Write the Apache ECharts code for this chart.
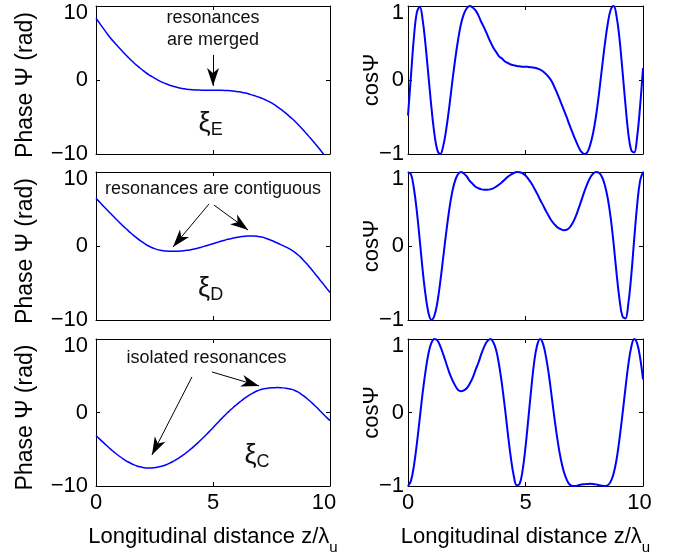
<!DOCTYPE html>
<html>
<head>
<meta charset="utf-8">
<script src="https://cdn.jsdelivr.net/npm/echarts@6/dist/echarts.min.js"></script>
<style>
  html, body { margin: 0; padding: 0; background: #fff; }
  #chart { width: 673px; height: 559px; }
</style>
</head>
<body>
<div id="chart"></div>
<script>
// Phase along the undulator (rad) and its cosine, for three detuning cases,
// sampled on a common longitudinal grid z/λu.
const zGrid = [0, 0.125, 0.25, 0.375, 0.5, 0.625, 0.75, 0.875,
  1, 1.125, 1.25, 1.375, 1.5, 1.625, 1.75, 1.875,
  2, 2.125, 2.25, 2.375, 2.5, 2.625, 2.75, 2.875,
  3, 3.125, 3.25, 3.375, 3.5, 3.625, 3.75, 3.875,
  4, 4.125, 4.25, 4.375, 4.5, 4.625, 4.75, 4.875,
  5, 5.125, 5.25, 5.375, 5.5, 5.625, 5.75, 5.875,
  6, 6.125, 6.25, 6.375, 6.5, 6.625, 6.75, 6.875,
  7, 7.125, 7.25, 7.375, 7.5, 7.625, 7.75, 7.875,
  8, 8.125, 8.25, 8.375, 8.5, 8.625, 8.75, 8.875,
  9, 9.125, 9.25, 9.375, 9.5, 9.625, 9.75, 9.875, 10];

// Case ξE: the two resonances are merged.
const psiE = [8.35, 7.80, 7.25, 6.70, 6.15, 5.66, 5.19, 4.75,
  4.32, 3.89, 3.47, 3.07, 2.68, 2.30, 1.96, 1.62,
  1.31, 1.01, 0.73, 0.48, 0.24, 0.02, -0.18, -0.36,
  -0.52, -0.67, -0.80, -0.92, -1.02, -1.11, -1.18, -1.24,
  -1.28, -1.315, -1.34, -1.36, -1.37, -1.38, -1.385, -1.39,
  -1.39, -1.393, -1.396, -1.40, -1.41, -1.43, -1.46, -1.50,
  -1.54, -1.60, -1.68, -1.77, -1.87, -1.98, -2.10, -2.23,
  -2.36, -2.52, -2.70, -2.89, -3.10, -3.34, -3.62, -3.91,
  -4.20, -4.52, -4.86, -5.21, -5.58, -5.97, -6.38, -6.82,
  -7.26, -7.72, -8.18, -8.65, -9.12, -9.62, -10.12, -10.63, -11.16];
const cosE = [-0.48, 0.05, 0.57, 0.91, 0.99, 0.81, 0.46, 0.04,
  -0.38, -0.73, -0.95, -1.00, -0.89, -0.67, -0.38, -0.05,
  0.26, 0.53, 0.75, 0.89, 0.97, 1.00, 0.98, 0.94,
  0.87, 0.78, 0.70, 0.61, 0.52, 0.44, 0.38, 0.32,
  0.29, 0.25, 0.23, 0.21, 0.20, 0.19, 0.185, 0.18,
  0.18, 0.177, 0.172, 0.165, 0.155, 0.14, 0.115, 0.08,
  0.035, -0.025, -0.11, -0.20, -0.30, -0.40, -0.50, -0.61,
  -0.71, -0.81, -0.90, -0.97, -1.00, -0.98, -0.88, -0.72,
  -0.49, -0.19, 0.15, 0.48, 0.76, 0.95, 1.00, 0.86,
  0.56, 0.13, -0.32, -0.72, -0.95, -0.98, -0.77, -0.36, 0.16];

// Case ξD: the resonances are contiguous.
const psiD = [6.45, 6.03, 5.61, 5.20, 4.79, 4.38, 3.98, 3.58,
  3.18, 2.80, 2.43, 2.07, 1.72, 1.39, 1.07, 0.77,
  0.49, 0.23, 0.00, -0.20, -0.36, -0.49, -0.58, -0.64,
  -0.68, -0.70, -0.71, -0.71, -0.70, -0.68, -0.64, -0.59,
  -0.53, -0.45, -0.36, -0.27, -0.16, -0.05, 0.07, 0.19,
  0.31, 0.44, 0.56, 0.68, 0.79, 0.90, 0.99, 1.08,
  1.16, 1.23, 1.28, 1.32, 1.34, 1.355, 1.35, 1.32,
  1.26, 1.17, 1.05, 0.91, 0.75, 0.58, 0.40, 0.22,
  0.04, -0.15, -0.36, -0.60, -0.87, -1.18, -1.54, -1.95,
  -2.38, -2.84, -3.32, -3.81, -4.30, -4.80, -5.29, -5.79, -6.30];
const cosD = [0.99, 0.97, 0.78, 0.47, 0.08, -0.33, -0.67, -0.91,
  -1.00, -0.94, -0.76, -0.48, -0.15, 0.18, 0.48, 0.72,
  0.88, 0.97, 1.00, 0.98, 0.94, 0.88, 0.84, 0.80,
  0.78, 0.765, 0.76, 0.76, 0.765, 0.778, 0.802, 0.831,
  0.863, 0.90, 0.936, 0.964, 0.987, 0.999, 0.998, 0.982,
  0.952, 0.905, 0.847, 0.778, 0.704, 0.622, 0.549, 0.471,
  0.399, 0.334, 0.287, 0.248, 0.229, 0.214, 0.219, 0.248,
  0.306, 0.39, 0.498, 0.614, 0.732, 0.836, 0.921, 0.976,
  0.999, 0.989, 0.936, 0.825, 0.645, 0.381, 0.031, -0.37,
  -0.72, -0.95, -0.98, -0.78, -0.40, 0.09, 0.55, 0.88, 1.00];

// Case ξC: isolated resonances.
const psiC = [-3.14, -3.52, -3.90, -4.27, -4.63, -4.99, -5.32, -5.65,
  -5.95, -6.23, -6.50, -6.73, -6.94, -7.12, -7.27, -7.39,
  -7.48, -7.54, -7.56, -7.55, -7.52, -7.45, -7.36, -7.24,
  -7.10, -6.93, -6.73, -6.51, -6.27, -6.00, -5.73, -5.42,
  -5.10, -4.77, -4.42, -4.06, -3.68, -3.30, -2.90, -2.48,
  -2.06, -1.64, -1.22, -0.80, -0.40, -0.01, 0.37, 0.72,
  1.05, 1.38, 1.69, 1.98, 2.25, 2.50, 2.72, 2.92,
  3.08, 3.19, 3.27, 3.32, 3.36, 3.38, 3.39, 3.38,
  3.35, 3.30, 3.23, 3.15, 3.00, 2.80, 2.55, 2.26,
  1.94, 1.60, 1.24, 0.86, 0.47, 0.06, -0.34, -0.73, -1.10];
const cosC = [-1.00, -0.93, -0.73, -0.43, -0.08, 0.27, 0.57, 0.81,
  0.95, 1.00, 0.98, 0.90, 0.79, 0.67, 0.55, 0.45,
  0.37, 0.31, 0.29, 0.30, 0.33, 0.39, 0.47, 0.58,
  0.68, 0.80, 0.90, 0.97, 1.00, 0.96, 0.85, 0.65,
  0.38, 0.06, -0.29, -0.61, -0.86, -0.99, -0.97, -0.79,
  -0.47, -0.07, 0.34, 0.70, 0.92, 1.00, 0.93, 0.75,
  0.50, 0.19, -0.12, -0.40, -0.63, -0.80, -0.91, -0.98,
  -1.00, -1.00, -0.99, -0.98, -0.976, -0.972, -0.970, -0.972,
  -0.978, -0.988, -0.996, -1.00, -0.99, -0.94, -0.83, -0.64,
  -0.36, -0.03, 0.32, 0.65, 0.89, 1.00, 0.94, 0.75, 0.45];

// Axis ranges and tick steps
const zRange = [0, 10], zStep = 5;
const psiRange = [-10, 10], psiStep = 10;
const cosRange = [-1, 1], cosStep = 1;

const FONT = '"Liberation Sans", Arial, Helvetica, sans-serif';
const BLUE = '#0000ff';
// filled dart arrowhead; the padding corners put the tip at the symbol centre
const ARROW_HEAD = 'path://M-18,-18 L-18,-18 M18,18 L18,18 M0,0 L6,18 L0,13 L-6,18 Z';

const rows = [
  {
    psi: psiE, cos: cosE, top: 6, height: 148,
    notes: [{ at: [5.0, 6.85], text: 'resonances\nare merged' }],
    arrows: [[[5.0, 3.4], [5.0, -0.8]]],
    tag: { at: [4.9, -5.95], main: 'ξ', sub: 'E' }
  },
  {
    psi: psiD, cos: cosD, top: 172, height: 148,
    notes: [{ at: [5.0, 7.7], text: 'resonances are contiguous' }],
    arrows: [[[4.83, 5.68], [3.29, -0.14]], [[5.04, 5.54], [6.5, 2.16]]],
    tag: { at: [4.9, -5.8], main: 'ξ', sub: 'D' }
  },
  {
    psi: psiC, cos: cosC, top: 339, height: 147,
    notes: [{ at: [4.72, 7.35], text: 'isolated resonances' }],
    arrows: [[[4.1, 4.83], [2.39, -5.78]], [[4.96, 5.51], [6.97, 3.61]]],
    tag: { at: [6.88, -5.92], main: 'ξ', sub: 'C' }
  }
];

const cols = [
  { left: 96, width: 234, yName: 'Phase Ψ (rad)', nameSize: 23, nameGap: 59, namePad: [0, 10, 0, 0],
    range: psiRange, step: psiStep, lineWidth: 1.5, labelPadX: 12, labelMargin: 8 },
  { left: 408, width: 235, yName: 'cosΨ', nameSize: 22, nameGap: 25, namePad: [0, 0, 0, 0],
    range: cosRange, step: cosStep, lineWidth: 2, labelPadX: 7, labelMargin: 4 }
];

const minusFmt = v => (v < 0 ? '\u2212' + Math.abs(v) : String(v));
const textBase = { fontFamily: FONT, fontSize: 22, color: '#000' };

const grids = [], xAxes = [], yAxes = [], series = [];

function frameLine() {
  return { show: true, onZero: false, lineStyle: { color: '#000', width: 1 } };
}
function innerTick() {
  return { show: true, inside: true, length: 4, lineStyle: { color: '#000', width: 1 } };
}

rows.forEach((row, r) => {
  const lastRow = r === rows.length - 1;
  cols.forEach((col, c) => {
    const g = grids.length;
    grids.push({ left: col.left, top: row.top, width: col.width, height: row.height, containLabel: false });

    const xb = xAxes.length;
    xAxes.push({
      gridIndex: g, type: 'value', position: 'bottom',
      min: zRange[0], max: zRange[1], interval: zStep,
      axisLine: frameLine(), axisTick: innerTick(), splitLine: { show: false },
      axisLabel: {
        show: lastRow, margin: 6, ...textBase,
        formatter: v => (v === zRange[1] ? '{hi|' + v + '}' : String(v)),
        rich: { hi: { ...textBase, padding: [0, col.labelPadX, 0, 0] } }
      },
      name: lastRow ? 'Longitudinal distance z/λ{s|u}' : '',
      nameLocation: 'middle', nameGap: 32, nameMoveOverlap: false,
      nameTextStyle: {
        ...textBase,
        rich: { s: { fontFamily: FONT, fontSize: 15, color: '#000', padding: [22, 0, 0, 0] } }
      }
    });
    xAxes.push({
      gridIndex: g, type: 'value', position: 'top',
      min: zRange[0], max: zRange[1], interval: zStep,
      axisLine: frameLine(), axisTick: innerTick(), splitLine: { show: false },
      axisLabel: { show: false }
    });

    const yl = yAxes.length;
    yAxes.push({
      gridIndex: g, type: 'value', position: 'left',
      min: col.range[0], max: col.range[1], interval: col.step,
      axisLine: frameLine(), axisTick: innerTick(), splitLine: { show: false },
      axisLabel: {
        show: true, margin: col.labelMargin, ...textBase,
        formatter: v => (v === col.range[1] ? '{hi|' + minusFmt(v) + '}' : minusFmt(v)),
        rich: { hi: { ...textBase, padding: [14, 0, 0, 0] } }
      },
      name: col.yName, nameLocation: 'middle', nameGap: col.nameGap, nameMoveOverlap: false,
      nameTextStyle: { ...textBase, fontSize: col.nameSize, padding: col.namePad }
    });
    yAxes.push({
      gridIndex: g, type: 'value', position: 'right',
      min: col.range[0], max: col.range[1], interval: col.step,
      axisLine: frameLine(), axisTick: innerTick(), splitLine: { show: false },
      axisLabel: { show: false }
    });

    const values = c === 0 ? row.psi : row.cos;
    const s = {
      type: 'line', xAxisIndex: xb, yAxisIndex: yl,
      data: zGrid.map((z, i) => [z, values[i]]),
      showSymbol: false, smooth: 0.4, clip: true,
      lineStyle: { color: BLUE, width: col.lineWidth },
      silent: true
    };

    if (c === 0) {
      // text notes, arrows and the case tag on the phase panels
      s.markPoint = {
        silent: true, symbol: 'circle', symbolSize: 1,
        itemStyle: { color: 'rgba(0,0,0,0)' },
        label: { show: true, position: 'inside', fontFamily: FONT, fontSize: 18, color: '#111', lineHeight: 22 },
        data: row.notes.map(n => ({ coord: n.at, label: { formatter: n.text } })).concat([{
          coord: row.tag.at,
          label: {
            formatter: '{m|' + row.tag.main + '}{b|' + row.tag.sub + '}',
            rich: {
              m: { fontFamily: FONT, fontSize: 27, color: '#111' },
              b: { fontFamily: FONT, fontSize: 18, color: '#111', padding: [12, 0, 0, 0] }
            }
          }
        }])
      };
      s.markLine = {
        silent: true, symbol: ['none', ARROW_HEAD], symbolSize: 36,
        lineStyle: { color: '#000', width: 1, type: 'solid' },
        itemStyle: { color: '#000' },
        label: { show: false },
        animation: false,
        data: row.arrows.map(a => [{ coord: a[0] }, { coord: a[1] }])
      };
    }
    series.push(s);
  });
});

const chart = echarts.init(document.getElementById('chart'), null, { renderer: 'canvas' });
chart.setOption({
  animation: false,
  backgroundColor: '#fff',
  grid: grids,
  xAxis: xAxes,
  yAxis: yAxes,
  series: series
});
</script>
</body>
</html>
